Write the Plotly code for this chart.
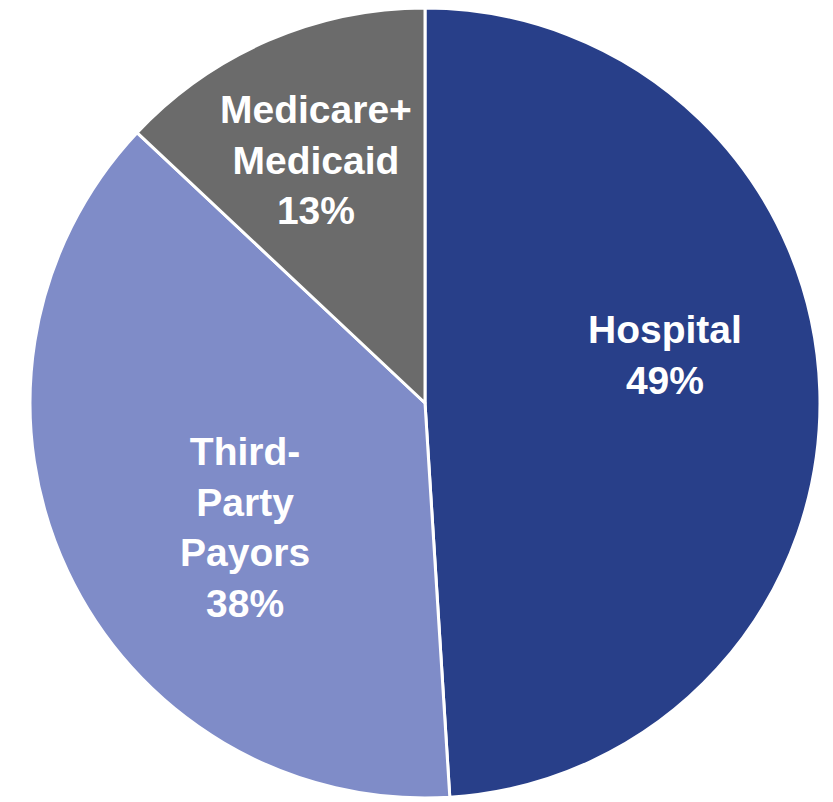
import plotly.graph_objects as go

categories = ["Hospital", "Third-Party Payors", "Medicare+ Medicaid"]
label_text = ["Hospital", "Third-<br>Party<br>Payors", "Medicare+<br>Medicaid"]
values = [49, 38, 13]
colors = ["#283F89", "#7F8CC8", "#6B6B6B"]

# label anchor positions (paper coords) - layout only
label_pos = [(0.788, 0.561), (0.284, 0.343), (0.369, 0.808)]

fig = go.Figure(go.Pie(
    labels=categories,
    values=values,
    textinfo="none",
    sort=False,
    direction="clockwise",
    rotation=0,
    marker=dict(colors=colors, line=dict(color="white", width=3)),
    domain=dict(x=[0, 1], y=[0, 1]),
    showlegend=False,
    hoverinfo="label+percent",
))

for txt, v, (px, py) in zip(label_text, values, label_pos):
    fig.add_annotation(
        x=px, y=py, xref="paper", yref="paper",
        text=f"{txt}<br>{v}%", showarrow=False,
        xanchor="center", yanchor="middle",
        font=dict(family="Liberation Sans, Arial, sans-serif", size=39, color="white", weight="bold"),
    )

fig.update_layout(
    width=834, height=790,
    margin=dict(l=0, r=0, t=0, b=0),
    paper_bgcolor="white",
    plot_bgcolor="white",
)

fig.write_html("out.html")
